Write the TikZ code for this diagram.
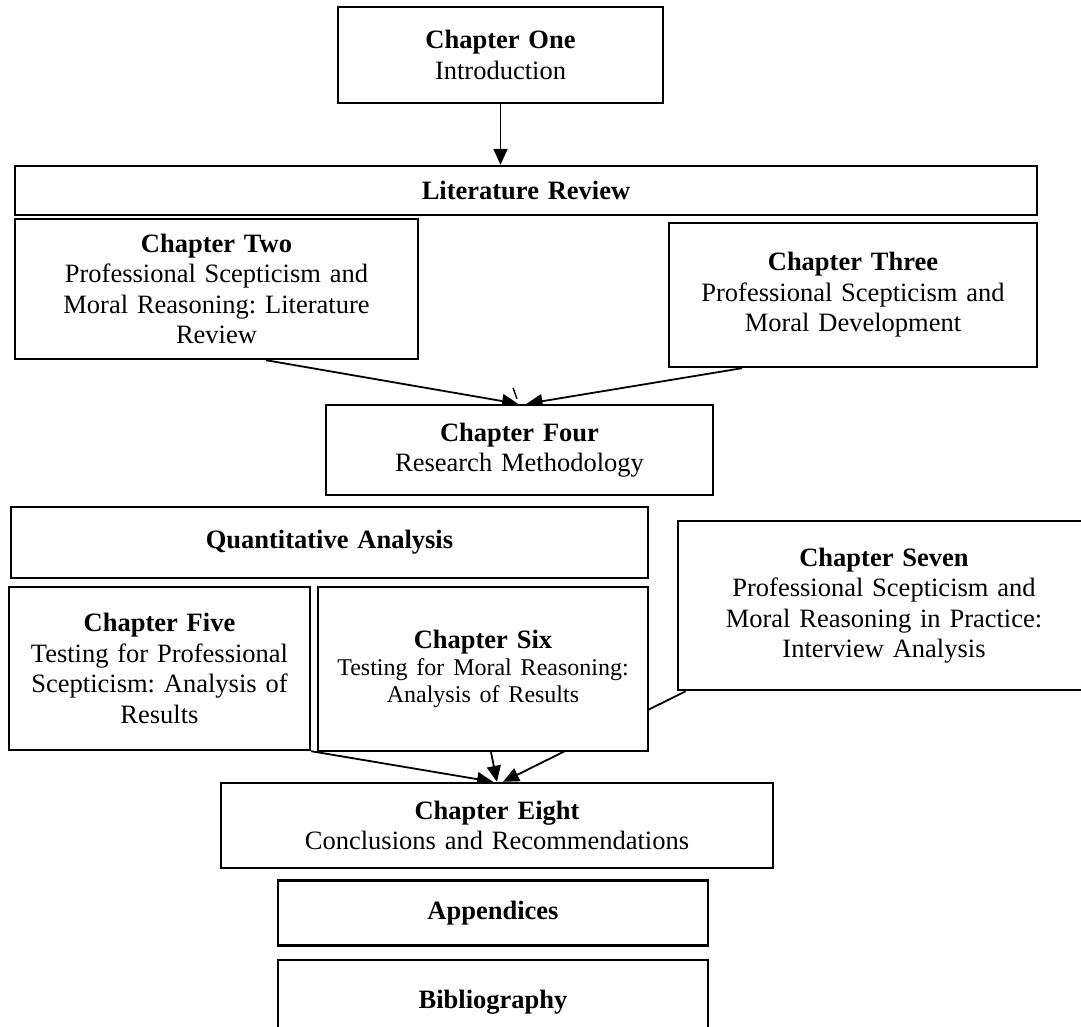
\documentclass[tikz,border=0pt]{standalone}
\usepackage{fontspec}
\setmainfont{Liberation Serif}
\usepackage{tikz}
\usetikzlibrary{positioning, arrows.meta, backgrounds}
\newcommand{\chapfont}{\frenchspacing\fontsize{26.5}{30.5}\selectfont}
\newcommand{\sixfont}{\fontsize{24}{27}\selectfont}

\begin{document}
\begin{tikzpicture}[x=1pt, y=-1pt,
		box/.style={draw, line width=2.4pt, fill=white, align=center, inner sep=0pt, font=\chapfont},
		arr/.style={line width=1.8pt, -{Triangle[length=16pt, width=14pt]}}]
		\useasboundingbox (0,0) rectangle (1081,1027);
		
		\node[box, text width=325pt, minimum height=96pt] (ch1) at (500.5,55) {\textbf{Chapter One}\\ Introduction};
		\node[box, text width=1022pt, minimum height=49pt] (lit) at (526,190.5) {\textbf{Literature Review}};
		\node[box, text width=403pt, minimum height=140pt] (ch2) at (216.5,289) {\textbf{Chapter Two}\\ Professional Scepticism and\\ Moral Reasoning: Literature\\ Review};
		\node[box, text width=368pt, minimum height=144pt] (ch3) at (853,295) {\textbf{Chapter Three}\\ Professional Scepticism and\\ Moral Development};
		\node[box, text width=387pt, minimum height=90pt] (ch4) at (519.5,450) {\textbf{Chapter Four}\\ Research Methodology};
		
		\node[box, text width=637pt, minimum height=71pt] (quant) at (329.5,542.5) {\textbf{Quantitative Analysis}};
		\node[box, text width=301pt, minimum height=163pt] (ch5) at (159.5,668.5) {\textbf{Chapter Five}\\ Testing for Professional\\ Scepticism: Analysis of\\ Results};
		\node[box, text width=330pt, minimum height=164pt] (ch6) at (483,669) {\textbf{Chapter Six}\\ {\sixfont Testing for Moral Reasoning:\\ Analysis of Results\par}};
		\node[box, text width=412pt, minimum height=169pt] (ch7) at (884,605.5) {\textbf{Chapter Seven}\\ Professional Scepticism and\\ Moral Reasoning in Practice:\\ Interview Analysis};
		
		\node[box, text width=552pt, minimum height=85pt] (ch8) at (497,825.5) {\textbf{Chapter Eight}\\ Conclusions and Recommendations};
		\node[box, text width=430pt, minimum height=65pt, below=10pt of ch8, xshift=-4pt] (app) {\textbf{Appendices}};
		\node[box, text width=430pt, minimum height=84pt, below=12pt of app] (bib) {\textbf{Bibliography}};
		
		\begin{scope}[on background layer]
			\draw[arr] (ch1.south) -- (ch1.south |- lit.north);
			\draw[arr] ([xshift=49.5pt]ch2.south) -- ([xshift=-1.5pt]ch4.north);
			\draw[arr] ([xshift=-111pt]ch3.south) -- ([xshift=7pt]ch4.north);
			\draw[line width=1.4pt] ([xshift=-6.5pt, yshift=16pt]ch4.north) -- ([xshift=-2.5pt, yshift=5pt]ch4.north);
			\draw[arr] (ch5.south east) -- ([xshift=-4pt]ch8.north);
			\draw[arr] ([xshift=8pt]ch6.south) -- (ch8.north);
			\draw[arr] ([xshift=9pt]ch7.south west) -- ([xshift=6pt]ch8.north);
		\end{scope}
	\end{tikzpicture}
\end{document}
